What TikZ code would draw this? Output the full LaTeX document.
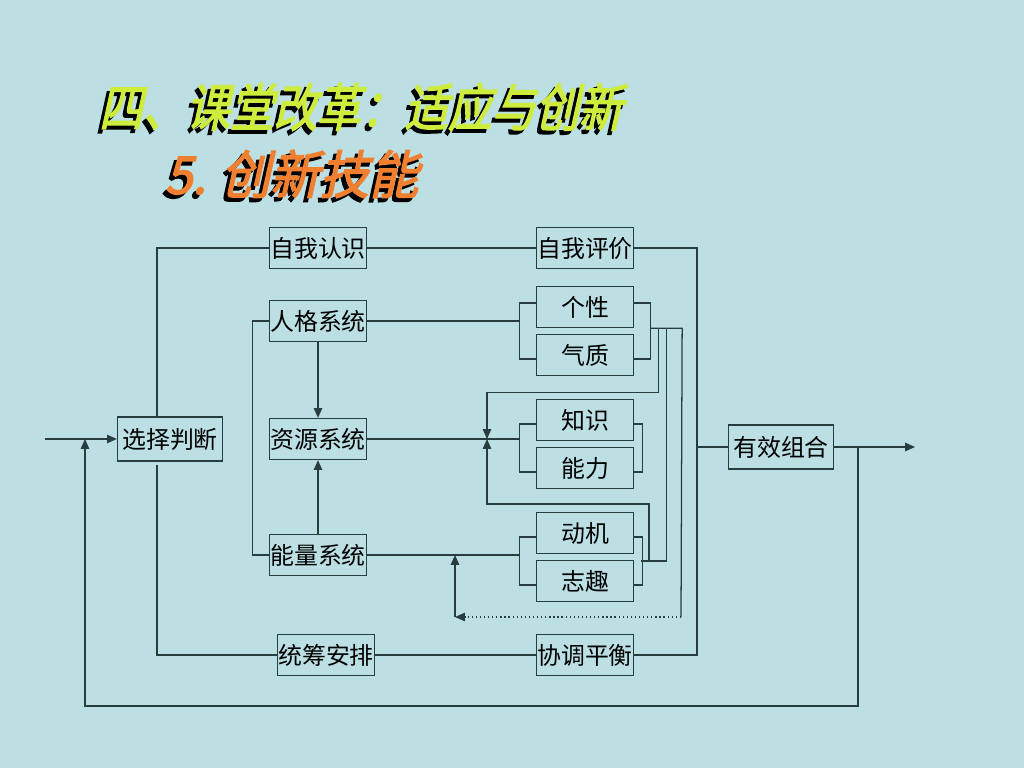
\documentclass[tikz,border=0pt]{standalone}
\usepackage{fontspec}
\newfontfamily\cjk{Noto Sans CJK SC}
\newfontfamily\cjktitle{Noto Sans CJK SC}[FakeSlant=0.22,FakeBold=2.5,FakeStretch=0.85]
\newfontfamily\cjksub{Noto Sans CJK SC}[FakeSlant=0.22,FakeBold=2.5,FakeStretch=0.95]
\usetikzlibrary{calc,arrows.meta}
\definecolor{bgblue}{RGB}{187,223,227}
\definecolor{linegray}{RGB}{40,62,62}
\definecolor{titlegreen}{RGB}{205,236,60}
\definecolor{titleorange}{RGB}{240,128,48}

\begin{document}
\begin{tikzpicture}[x=0.025cm,y=-0.025cm,
    box/.style={draw=linegray,line width=0.9pt,inner sep=0pt,minimum width=2.425cm,
      minimum height=1.025cm,font=\cjk\fontsize{17}{17}\selectfont},
    wide/.style={box,minimum width=2.625cm,minimum height=1.1cm},
    wire/.style={draw=linegray,line width=0.9pt},
    arr/.style={wire,-{Triangle[length=7pt,width=6pt]}},
    title/.style={anchor=west,font=\cjktitle\fontsize{36.5}{36.5}\selectfont},
    subtitle/.style={anchor=west,font=\cjksub\fontsize{37}{37}\selectfont}]
    \fill[bgblue] (0,0) rectangle (1024,768);
    \useasboundingbox (0,0) rectangle (1024,768);

    \node[title,text=black] (t1s) at (90,111) {四、课堂改革：适应与创新};
    \node[title,text=titlegreen] (t1) at (94,107) {四、课堂改革：适应与创新};
    \node[subtitle,text=black] (t2s) at (156,178) {5. 创新技能};
    \node[subtitle,text=titleorange] (t2) at (160,174) {5. 创新技能};

    \node[box] (zwrs) at (318,248) {自我认识};
    \node[box] (zwpj) at (585,248) {自我评价};
    \node[box] (rgxt) at (318,321) {人格系统};
    \node[box] (zyxt) at (318,439) {资源系统};
    \node[box] (nlxt) at (318,555) {能量系统};
    \node[wide] (xzpd) at (170,439) {选择判断};
    \node[box] (tcap) at (326,655) {统筹安排};
    \node[box] (xtph) at (585,655) {协调平衡};
    \node[box] (gx) at (585,307) {个性};
    \node[box] (qz) at (585,355) {气质};
    \node[box] (zs) at (585,420) {知识};
    \node[box] (nl) at (585,468) {能力};
    \node[box] (dj) at (585,533) {动机};
    \node[box] (zq) at (585,581) {志趣};
    \node[wide] (yxzh) at (781,447) {有效组合};

    \coordinate (in) at (45,439);
    \coordinate (out) at (915,447);
    \coordinate (fb) at (858,706);
    \coordinate (fbl) at (85,706);
    \coordinate (up) at (157,248);
    \coordinate (dn) at (157,465);
    \coordinate (rr) at (697,248);
    \coordinate (lb) at ([shift={(-16,0)}]gx.west);
    \coordinate (rb) at ([shift={(16,0)}]gx.south east);
    \coordinate (rc) at (641,561);
    \coordinate (jn) at (487,439);
    \coordinate (lp) at (455,555);
    \coordinate (dt) at (681,617);

    \draw[arr] (in) -- (xzpd.west);
    \draw[arr] (yxzh.east) -- (out);
    \draw[arr] (yxzh.east -| fb) -- (fb) -- (fbl) -- (fbl |- in);
    \draw[wire] (xzpd.north -| up) -- (up) -- (zwrs.west);
    \draw[wire] (dn) |- (tcap.west);
    \draw[wire] (zwrs) -- (zwpj);
    \draw[wire] (tcap) -- (xtph);
    \draw[wire] (zwpj.east) -- (rr) |- (xtph.east);
    \draw[wire] (rr |- yxzh) -- (yxzh.west);
    \draw[arr] (rgxt) -- (zyxt);
    \draw[arr] (nlxt) -- (zyxt);
    \draw[wire] (rgxt.west) -- ++(-16,0) |- (nlxt.west);

    % brackets
    \draw[wire] ([shift={(0,-4)}]gx.west) -- ++(-16,0) |- ([shift={(0,4)}]qz.west);
    \draw[wire] ([shift={(0,-4)}]gx.east) -- ++(16,0) |- ([shift={(0,4)}]qz.east);
    \draw[wire] ([shift={(0,4)}]zs.west) -- ++(-16,0) |- ([shift={(0,4)}]nl.west);
    \draw[wire] ([shift={(0,4)}]zs.east) -- ++(8,0) |- ([shift={(0,4)}]nl.east);
    \draw[wire] ([shift={(0,4)}]dj.west) -- ++(-16,0) |- ([shift={(0,4)}]zq.west);
    \draw[wire] ([shift={(0,4)}]dj.east) -- ++(8,0) |- ([shift={(0,4)}]zq.east);
    \draw[wire] (rgxt.east) -- (rgxt.east -| lb);
    \draw[wire] (zyxt.east) -- (zyxt.east -| lb);
    \draw[wire] (nlxt.east) -- (nlxt.east -| lb);

    \draw[wire] (rb) -- ++(32,0) -- (dt);
    \draw[wire,dotted,-{Triangle[length=7pt,width=6pt]}] (dt) -- (dt -| lp);
    \draw[arr] (dt -| lp) -- (lp);
    \draw[arr] ([shift={(8,0)}]rb) -- ++(0,64) -| (jn);
    \draw[wire] ([shift={(16,0)}]rb) |- (rc);
    \draw[arr] ([shift={(8,0)}]rc) -- ++(0,-57) -| (jn);
\end{tikzpicture}
\end{document}
